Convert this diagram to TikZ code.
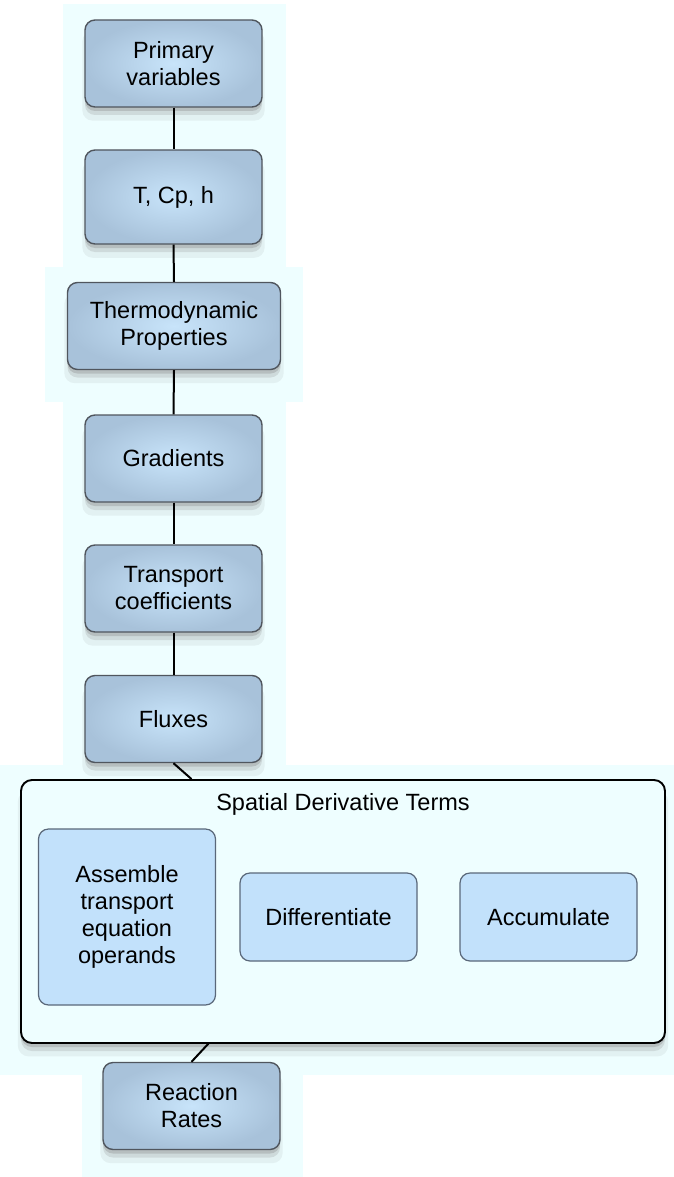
\documentclass[tikz,border=0pt]{standalone}
\usepackage{fontspec}
\setmainfont{Liberation Sans}
\usetikzlibrary{shadows}
\definecolor{paleback}{HTML}{EEFEFF}
\definecolor{boxlight}{HTML}{C8E4FA}
\definecolor{boxdark}{HTML}{A8C2DA}
\definecolor{boxedge}{HTML}{50565E}
\definecolor{innerfill}{HTML}{C2E1FB}
\definecolor{inneredge}{HTML}{5A687A}
\begin{document}
\begin{tikzpicture}[x=1pt, y=-1pt,
		stage/.style={rectangle, rounded corners=10pt, draw=boxedge, line width=1.4pt,
			inner color=boxlight, outer color=boxdark, minimum width=177pt, minimum height=87pt,
			inner sep=0pt, align=center, font=\fontsize{23.5}{27}\selectfont,
			drop shadow={shadow xshift=0pt, shadow yshift=-12pt, shadow scale=1.03, opacity=.10},
			drop shadow={shadow xshift=0pt, shadow yshift=-8pt, opacity=.20},
			drop shadow={shadow xshift=0pt, shadow yshift=-4pt, opacity=.30}},
		substep/.style={rectangle, rounded corners=10pt, draw=inneredge, line width=1.2pt,
			fill=innerfill, minimum width=177pt, minimum height=88pt, inner sep=0pt,
			align=center, font=\fontsize{23.5}{27}\selectfont},
		group/.style={rectangle, rounded corners=11pt, draw=black, line width=1.9pt,
			fill=paleback, minimum width=644pt, minimum height=263pt, inner sep=0pt,
			drop shadow={shadow xshift=0pt, shadow yshift=-12pt, shadow scale=1.01, opacity=.10},
			drop shadow={shadow xshift=0pt, shadow yshift=-8pt, opacity=.20},
			drop shadow={shadow xshift=0pt, shadow yshift=-4pt, opacity=.30}},
		link/.style={draw=black, line width=2pt}]
		
		\useasboundingbox (0,0) rectangle (674,1177);
		
		% Pale backdrop behind the boxes
		\fill[paleback] (63,4) rectangle (286,267);
		\fill[paleback] (45,267) rectangle (303,402);
		\fill[paleback] (63,402) rectangle (286,765);
		\fill[paleback] (0,765) rectangle (674,1075);
		\fill[paleback] (82,1075) rectangle (303,1177);
		
		% Column of stages
		\node[stage] (primary) at (173.5,63.5) {Primary\\variables};
		\node[stage, minimum height=94pt] (tcph) at (173.5,197) {T, Cp, h};
		\node[stage, minimum width=213pt] (thermo) at (174,326) {Thermodynamic\\Properties};
		\node[stage] (gradients) at (173.5,458.5) {Gradients};
		\node[stage] (transport) at (173.5,588.5) {Transport\\coefficients};
		\node[stage] (fluxes) at (173.5,719) {Fluxes};
		
		% Spatial derivative group
		\node[group] (spatial) at (343,911.5) {};
		\node[font=\fontsize{23.5}{27}\selectfont] (spatialtitle) at (343,804) {Spatial Derivative Terms};
		\node[substep, minimum height=176pt] (assemble) at (127,917) {Assemble\\transport\\equation\\operands};
		\node[substep] (differentiate) at (328.5,917) {Differentiate};
		\node[substep] (accumulate) at (548.5,917) {Accumulate};
		
		\node[stage] (reaction) at (191.5,1106) {Reaction\\Rates};
		
		% Connectors
		\draw[link] (primary.south) -- (tcph.north);
		\draw[link] (tcph.south) -- (thermo.north);
		\draw[link] (thermo.south) -- (gradients.north);
		\draw[link] (gradients.south) -- (transport.north);
		\draw[link] (transport.south) -- (fluxes.north);
		\draw[link] (fluxes.south) -- (spatial.north -| reaction.north);
		\coordinate (spatialout) at (209,1043);
		\draw[link] (spatialout) -- (reaction.north);
	\end{tikzpicture}
\end{document}
